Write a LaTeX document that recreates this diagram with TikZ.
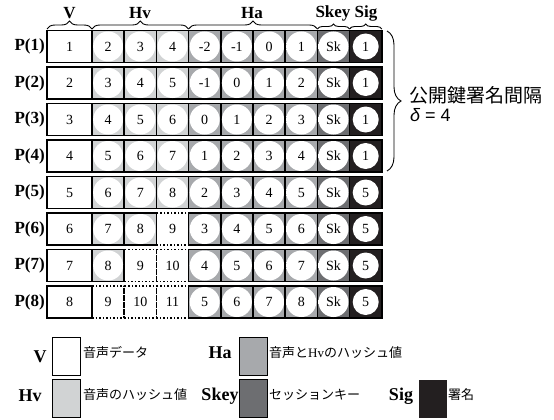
\documentclass[tikz,border=0pt]{standalone}
\usepackage{fontspec}
\setmainfont{Liberation Serif}
\newfontfamily\jp{Noto Sans CJK JP}
\newfontfamily\lsans{Liberation Sans}
\usetikzlibrary{decorations.pathreplacing}
\definecolor{hvgray}{HTML}{D1D3D4}
\definecolor{hagray}{HTML}{A7A9AC}
\definecolor{skgray}{HTML}{6D6E71}
\definecolor{sigblack}{HTML}{231F20}
\pgfdeclareradialshading{hvballsh}{\pgfpoint{0bp}{0bp}}{color(0bp)=(white); color(41bp)=(white); color(50bp)=(hvgray)}
\pgfdeclareradialshading{haballsh}{\pgfpoint{0bp}{0bp}}{color(0bp)=(white); color(41bp)=(white); color(50bp)=(hagray)}
\pgfdeclareradialshading{skballsh}{\pgfpoint{0bp}{0bp}}{color(0bp)=(white); color(41bp)=(white); color(50bp)=(skgray)}
\begin{document}
\begin{tikzpicture}[x=1pt,y=-1pt,
  cell/.style={draw=black, line width=1.6pt, minimum width=32.2pt, minimum height=32pt, inner sep=0pt},
  vcell/.style={cell, fill=white, minimum width=45pt, font=\fontsize{14}{14}\selectfont},
  hvcell/.style={cell, fill=hvgray},
  hacell/.style={cell, fill=hagray},
  skcell/.style={cell, fill=skgray},
  sigcell/.style={cell, fill=sigblack},
  dotcell/.style={draw=black, dotted, line width=1.5pt, minimum width=32.2pt, minimum height=32pt, inner sep=0pt, font=\fontsize{14}{14}\selectfont},
  ball/.style={circle, minimum size=30pt, inner sep=0pt, shade, font=\fontsize{14}{14}\selectfont},
  hvball/.style={ball, shading=hvballsh},
  haball/.style={ball, shading=haballsh},
  skball/.style={ball, shading=skballsh},
  sigball/.style={circle, fill=white, minimum size=26pt, inner sep=0pt, font=\fontsize{14}{14}\selectfont},
  rowlab/.style={font=\fontsize{17}{17}\selectfont\bfseries, inner sep=0pt},
  head/.style={font=\fontsize{17}{17}\selectfont\bfseries, inner sep=0pt},
  brace/.style={decorate, decoration={brace, amplitude=#1}, line width=0.9pt},
  legbox/.style={draw=black, line width=1.8pt, minimum width=28pt, minimum height=38pt, inner sep=0pt},
  leglab/.style={font=\fontsize{18}{18}\selectfont\bfseries, inner sep=0pt},
  legtxt/.style={font=\jp\fontsize{13}{13}\selectfont, inner sep=0pt, anchor=west}
]
\useasboundingbox (0,0) rectangle (554,420);
\fill[white] (0,0) rectangle (554,420);

% headers
\node[head] (hV) at (69.5,13) {V};
\node[head] (hHv) at (140,13) {Hv};
\node[head] (hHa) at (252,13) {Ha};
\node[head] (hSkey) at (333,13) {Skey};
\node[head] (hSig) at (366,13) {Sig};
\coordinate (bV1) at (47,29); \coordinate (bV2) at (92,29);
\coordinate (bHv1) at (92,29); \coordinate (bHv2) at (188.6,29);
\coordinate (bHa1) at (188.6,29); \coordinate (bHa2) at (317.4,29);
\coordinate (bSk1) at (317.4,29); \coordinate (bSk2) at (349.6,29);
\coordinate (bSg1) at (349.6,29); \coordinate (bSg2) at (381.8,29);
\draw[brace=8pt] (bV1) -- (bV2);
\draw[brace=8pt] (bHv1) -- (bHv2);
\draw[brace=8pt] (bHa1) -- (bHa2);
\draw[brace=5pt] (bSk1) -- (bSk2);
\draw[brace=5pt] (bSg1) -- (bSg2);

% rows
\foreach \n in {1,...,8} {
  \pgfmathsetmacro\yc{46.5+36.5*(\n-1)}
  \node[rowlab, anchor=east] (p\n) at (45,\yc) {P(\n)};
  \node[vcell] (v\n) at (69.5,\yc) {\n};
  \foreach \k in {1,2,3} {
    \pgfmathtruncatemacro\val{\n+\k}
    \pgfmathsetmacro\xc{92+32.2*(\k-0.5)}
    \ifnum\val>8
      \node[dotcell] (hv\n-\k) at (\xc,\yc) {\val};
    \else
      \node[hvcell] (hv\n-\k) at (\xc,\yc) {};
      \node[hvball] (hvb\n-\k) at (\xc,\yc) {\val};
    \fi
  }
  \foreach \k in {1,2,3,4} {
    \pgfmathtruncatemacro\val{\n-4+\k}
    \pgfmathsetmacro\xc{188.6+32.2*(\k-0.5)}
    \node[hacell] (ha\n-\k) at (\xc,\yc) {};
    \node[haball] (hab\n-\k) at (\xc,\yc) {\val};
  }
  \node[skcell] (sk\n) at (333.5,\yc) {};
  \node[skball] (skb\n) at (333.5,\yc) {Sk};
  \node[sigcell] (sg\n) at (365.7,\yc) {};
  \pgfmathtruncatemacro\sv{\n<5 ? 1 : 5}
  \node[sigball] (sgb\n) at (365.7,\yc) {\sv};
}

% right brace
\coordinate (rb1) at (387,31);
\coordinate (rb2) at (387,171);
\draw[brace=14pt] (rb1) -- (rb2);
\node[font=\jp\fontsize{19}{19}\selectfont, inner sep=0pt, anchor=west] (interval) at (409,95) {公開鍵署名間隔};
\node[font=\lsans\fontsize{18}{18}\selectfont, inner sep=0pt, anchor=west] (delta) at (410,115) {\itshape δ\upshape\ = 4};

% legend
\node[leglab] (lV) at (40,357) {V};
\node[legbox, fill=white] (boxV) at (66.5,356.5) {};
\node[legtxt] (tV) at (83,353) {音声データ};
\node[leglab] (lHv) at (30,396) {Hv};
\node[legbox, fill=hvgray] (boxHv) at (66.5,398.5) {};
\node[legtxt] (tHv) at (83,395) {音声のハッシュ値};
\node[leglab] (lHa) at (220,353) {Ha};
\node[legbox, fill=hagray] (boxHa) at (253.5,356.5) {};
\node[legtxt] (tHa) at (269,353) {音声と{\rmfamily Hv}のハッシュ値};
\node[leglab] (lSk) at (220,396) {Skey};
\node[legbox, fill=skgray] (boxSk) at (253.5,398.5) {};
\node[legtxt] (tSk) at (269,395) {セッションキー};
\node[leglab] (lSg) at (401,396) {Sig};
\node[legbox, draw=none, fill=sigblack] (boxSg) at (433,398.5) {};
\node[legtxt] (tSg) at (448,395) {署名};
\end{tikzpicture}
\end{document}
